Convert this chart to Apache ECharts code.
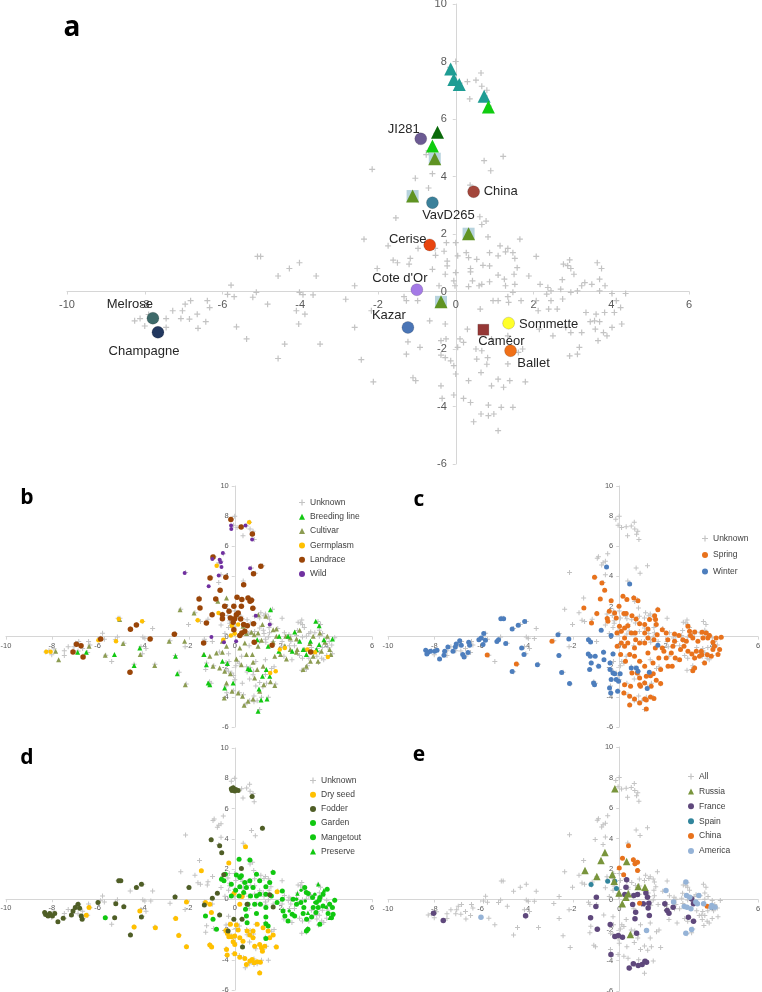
<!DOCTYPE html>
<html><head><meta charset="utf-8">
<script src="https://cdn.jsdelivr.net/npm/echarts@6/dist/echarts.min.js"></script>
<style>html,body{margin:0;padding:0;background:#fff}#c{width:762px;height:992px}</style>
</head><body><div id="c"></div>
<script>
// ---------- DATA ----------
const xRange = [-10, 6];
const yRange = [-6, 10];
const tickStep = 2;

// all accessions (grey crosses)
const allPts = [
[0,8.0],[0.3,7.3],[0.52,7.35],[0.65,7.6],[0.67,7.14],[0.36,6.7],[0.8,7.0],[-0.15,7.8],[0.1,7.25],[-0.05,7.4],[0.75,6.8],[0.85,6.45],
[1.22,4.7],[0.73,4.55],[0.9,4.2],[-0.76,4.76],[-0.6,4.1],[-1.04,3.94],[-0.7,3.6],[-2.15,4.25],[0.37,3.7],[-1.54,2.56],[0.62,2.6],[0.78,2.45],[0.67,2.33],[-0.95,5.2],[-0.6,5.0],[-0.7,4.9],[-0.5,5.5],[-0.9,5.3],
[-2.36,1.82],[-1.74,1.59],[0,1.7],[-0.24,1.7],[-0.53,1.5],[0.83,1.9],[1.65,1.82],[-0.97,1.5],[-0.3,1.4],
[-5.02,1.22],[-5.1,1.22],[-4.02,1.0],[-4.28,0.8],[-4.57,0.54],[-3.59,0.54],[-5.78,0.22],[-5.87,-0.1],[-5.7,-0.18],[-5.13,-0.03],[-5.22,-0.2],[-4.84,-0.44],[-4.02,-0.03],[-3.93,-0.11],[-3.67,-0.12],[-4.1,-0.67],[-3.88,-0.79],[-4.04,-1.13],[-5.64,-1.23],[-5.38,-1.65],[-4.4,-1.83],[-3.49,-1.83],[-4.57,-2.33],
[-7.28,-0.67],[-7.03,-0.67],[-6.82,-0.32],[-6.96,-0.44],[-6.39,-0.32],[-6.33,-0.56],[-6.65,-0.79],[-6.43,-1.05],[-6.63,-1.28],[-7.45,-0.94],[-7.07,-0.94],[-6.85,-0.96],[-7.45,-1.25],[-8.26,-1.02],[-8.12,-0.94],[-7.9,-0.8],[-8.0,-1.2],
[-2.83,-0.27],[-2.6,0.2],[-2.02,0.8],[-2.17,-0.67],[-2.6,-1.25],[-2.43,-2.37],[-2.12,-3.14],[-1.17,1.15],[-1.61,1.09],[-1.5,1.0],[-1.2,0.95],[-1.27,-0.32],[-0.98,-0.32],[-1.33,-0.18],[-1.23,-1.75],[-1.27,-2.18],[-0.92,-1.94],[-1.1,-3.0],[-1.03,-3.1],[-0.67,-1.02],[-0.27,-1.13],[-0.38,-1.71],[-0.25,-1.65],[-0.38,-2.21],[-0.27,-2.3],[-0.13,-2.41],[0,-2.87],[-0.05,-2.58],[-0.38,-3.28],[-0.35,-3.72],[-0.05,-3.6],
[0.2,-3.72],[0.38,-3.86],[0.65,-4.26],[0.84,-4.32],[0.46,-4.53],[0.84,-3.95],[0.98,-4.26],[1.09,-4.84],[1.17,-4.03],[1.47,-4.03],[1.09,-3.05],[1.23,-3.33],[1.39,-3.1],[0.92,-3.28],[0.65,-2.82],[1.79,-3.14],[0.33,-3.1],[0.54,-2.35],[0.82,-2.3],[0.8,-2.53],[0.52,-2.0],[0.67,-2.06],[1.34,-2.52],[1.61,-2.12],[1.72,-2.0],[0.05,-1.94],[0.11,-1.65],[0.2,-1.77],[0.3,-1.31],[0.92,-1.65],[1.34,-1.54],
[0.63,-0.61],[0.96,-0.32],[1.36,-0.38],[1.34,-0.18],[1.47,-0.03],[1.09,-0.32],[1.68,-0.32],[2.07,-0.32],[2.12,-0.67],[2.39,-0.61],[2.61,-0.61],[2.15,-1.31],[2.5,-1.54],[2.83,-1.25],[2.96,-1.43],[3.24,-1.43],[3.18,-1.94],[2.93,-2.24],[3.13,-2.18],[3.66,-1.71],[3.8,-1.43],[3.59,-1.31],[4.02,-1.25],[4.27,-1.13],[3.89,-1.54],[3.46,-1.05],[3.57,-1.02],[3.7,-1.05],[3.35,-0.73],[3.61,-0.79],[3.83,-0.73],[4.13,-0.32],[4.24,-0.56],[4.08,-0.73],[4.37,-0.07],[4.02,-0.07],[3.7,0.02],[3.84,0.2],[3.5,0.25],[3.7,0.43],[3.32,0.31],[3.75,0.8],[3.64,1.0],[3.24,0.2],[2.96,-0.03],[3.13,0.02],[2.74,0.41],[2.96,0.8],[3.04,0.6],[2.77,0.95],[2.93,1.1],[2.88,0.9],[2.7,0.08],[2.45,0.02],[2.37,0.14],[2.34,-0.09],[2.45,-0.32],[2.75,-0.26],[2.17,0.25],[2.07,1.22],[1.88,0.54],[1.52,0.25],[1.28,0.2],[1.25,0.43],[1.09,0.57],[1.5,0.6],[1.58,0.83],[1.52,1.15],[1.47,1.35],[1.34,1.5],[1.14,1.59],[1.09,1.24],[1.28,1.38],[0.87,1.35],[0.87,0.89],[0.7,0.91],[0.54,1.12],[0.33,1.18],[0.38,0.8],[0.38,0.68],[0.27,1.35],[0.43,0.37],[0.6,0.2],[0.67,0.25],[0.87,0.34],[0.33,0.17],[-0.02,0.2],[-0.05,0.37],[0,0.66],[-0.22,0.89],[-0.22,1.06],[0.05,1.24],[-0.27,0.6],[-0.43,0.2],[-0.52,1.26],[-0.6,0.77]
];

// panel a highlighted accessions
const aTeal = [[-0.13,7.74],[-0.05,7.37],[0.09,7.2],[0.73,6.79]];
const aBright = [[0.84,6.42],[-0.6,5.06]];
const aDark = [[-0.47,5.54]];
const aOlive = [[-0.54,4.62],[-1.11,3.32],[0.33,2.01],[-0.38,-0.36]];
const aNames = ['JI281','China','VavD265','Cerise',"Cote d'Or",'Kazar','Melrose','Champagne','Caméor','Sommette','Ballet'];
const aX = [-0.9,0.46,-0.6,-0.67,-1.0,-1.23,-7.79,-7.66,0.71,1.36,1.41];
const aY = [5.31,3.47,3.09,1.62,0.06,-1.25,-0.93,-1.42,-1.33,-1.1,-2.06];

// panel b: type
const bWild = [[-0.16,7.37],[-0.15,7.15],[0.47,7.37],[0.76,6.44],[-0.52,5.55],[-0.98,5.15],[-0.66,5.11],[-0.61,4.93],[-0.58,4.62],[-2.19,4.23],[-0.7,4.05],[0.67,4.54],[-1.14,3.34],[0.92,1.39],[1.53,0.8],[-1.02,-0.02],[-0.47,-0.38],[0.06,-0.31]];
const bLandrace = [[-0.17,7.77],[0.28,7.28],[0.77,6.81],[1.14,4.67],[0.82,4.18],[-0.95,5.29],[-1.08,3.89],[-0.39,3.94],[0.39,3.45],[-0.64,3.08],[-1.56,2.5],[-0.83,2.5],[0.1,2.61],[0.31,2.46],[0.58,2.57],[0.67,2.35],[0.73,2.42],[-1.52,1.9],[-0.44,2.01],[-0.04,2.01],[0.29,2.01],[0.79,1.88],[-0.99,1.46],[-0.54,1.46],[-0.25,1.68],[0.07,1.46],[0.15,1.57],[-0.19,1.24],[0,1.19],[0.26,1.17],[-0.54,1.19],[-1.24,0.91],[-0.07,0.95],[0.39,0.8],[0.55,0.73],[0.82,0.86],[-0.04,0.46],[0.31,0.24],[0.44,0.35],[0.22,0.07],[-2.64,0.15],[-3.7,-0.15],[-4.56,0.49],[-4.3,0.77],[-5.86,-0.15],[-6.92,-0.51],[-6.72,-0.6],[-7.07,-1.02],[-6.63,-1.35],[-4.58,-2.37],[-1.36,-0.42],[0.85,-0.38],[1.63,-0.58],[3.32,-1.02]];
const bGermplasm = [[0.63,7.59],[-0.79,4.71],[-0.71,1.57],[-1.62,1.08],[-0.13,0.73],[0.15,0.8],[-5.07,1.17],[-4.05,1.02],[-5.19,-0.31],[-5.96,-0.24],[-8.05,-1.0],[-8.24,-1.0],[-0.17,0.07],[0,0.2],[-0.5,-0.2],[1.97,-0.86],[2.19,-0.75],[1.55,-2.41],[1.79,-2.3],[3.18,-0.86],[3.51,-1.04],[4.07,-1.35]];
const bBreeding = [[1.56,1.79],[3.54,1.02],[3.69,0.73],[4.27,-0.15],[3.9,-0.2],[-5.26,-1.19],[-6.49,-1.04],[-6.87,-1.04],[-4.15,-0.75],[-4.4,-1.92],[-2.59,-1.31],[-2.51,-2.46],[-1.34,-1.19],[-1.24,-1.86],[-1.09,-3.19],[-1.16,-3.08],[-0.44,-3.41],[-0.54,-1.64],[-0.32,-1.79],[-0.07,-3.08],[0.58,-2.12],[0.67,-2.19],[1.02,-4.96],[1.41,-4.14],[1.15,-4.2],[1.06,-3.47],[1.21,-2.63],[0.98,-0.2],[1.46,-0.64],[1.94,0.02],[2.33,0.02],[2.62,0.31],[2.84,-0.31],[2.99,-0.86],[3.31,-0.31],[3.13,-1.19],[3.57,-0.86],[3.69,-0.53],[2.51,-0.97],[1.93,-0.97],[1.38,-2.19],[1.53,-2.63]];
const bCultivar = [[-0.74,2.35],[-2.39,1.79],[-1.78,1.57],[-0.36,2.57],[-5.03,1.13],[1.03,1.46],[1.36,1.35],[1.21,0.8],[1.68,0.46],[1.82,0.5],[0.73,0.29],[1.02,0.24],[0.36,0.69],[0.51,0.2],[0.85,0.13],[1.17,-0.24],[1.68,-0.35],[1.82,0.02],[2.23,0.02],[2.43,-0.09],[2.7,-0.15],[2.19,-0.6],[2.0,-1.19],[2.26,-1.48],[2.7,-1.04],[3.06,-0.86],[3.28,-0.46],[3.43,0.02],[3.72,0.24],[3.94,-0.38],[4.05,0.02],[3.79,-0.97],[4.15,-0.86],[4.2,-1.19],[3.43,-1.31],[3.64,-1.64],[3.13,-1.97],[2.99,-2.19],[3.31,-1.64],[2.73,-0.86],[2.43,-0.86],[2.84,0.42],[1.02,-0.64],[0.44,-0.42],[0.22,-0.75],[0.51,-1.19],[0.07,-1.48],[0.29,-1.86],[0.8,-1.7],[0.98,-2.19],[1.24,-1.97],[0.87,-2.74],[1.27,-3.19],[1.09,-3.63],[0.8,-4.14],[0.58,-4.29],[0.41,-4.56],[0.34,-3.96],[0.15,-3.74],[-0.12,-3.63],[-0.46,-4.07],[-0.36,-3.08],[-0.19,-2.46],[-0.44,-2.3],[-0.66,-2.08],[-0.95,-1.97],[-1.36,-1.19],[-1.09,-1.31],[-0.8,-1.08],[-0.54,-1.04],[-0.36,-0.64],[-0.54,-0.31],[0.77,-1.19],[1.75,-1.31],[1.75,-3.25],[1.56,-3.0],[-2.16,-3.19],[-2.19,-0.31],[-2.87,-0.31],[-3.5,-1.92],[-4.13,-1.19],[-4.88,-0.46],[-5.66,-1.24],[-6.37,-0.64],[-7.7,-1.53],[-7.83,-0.97],[0.07,1.46]];

// panel c: growth habit
const cWinter = [[-8.37,-0.91],[-8.27,-1.04],[-8.16,-0.97],[-7.98,-0.97],[-8.32,-1.15],[-7.88,-0.91],[-7.77,-1.48],[-7.58,-1.24],[-7.55,-0.97],[-7.41,-0.69],[-7.19,-0.97],[-7.09,-0.69],[-7.05,-0.49],[-6.9,-0.27],[-6.83,-0.58],[-6.77,-1.19],[-6.71,-1.35],[-6.51,-0.38],[-6.47,-0.58],[-6.54,-1.06],[-6.07,-0.2],[-5.97,-0.09],[-5.86,0.2],[-5.79,-0.24],[-5.89,-0.53],[-5.29,-0.33],[-5.22,-0.2],[-5.12,1.19],[-5.0,1.19],[-4.91,-0.46],[-4.63,0.51],[-4.37,0.75],[-4.09,1.0],[-4.22,-0.75],[-4.12,-1.19],[-4.63,-2.32],[-3.54,-1.86],[-2.65,0.13],[-2.61,-1.26],[-2.49,-2.39],[-2.18,-0.15],[-2.15,-3.12],[-1.33,-0.2],[-1.24,-0.35],[-1.34,-1.15],[-1.25,-1.31],[-1.28,-2.19],[-1.21,-1.75],[-1.04,-1.31],[-1.11,-3.08],[-1.07,-3.19],[-0.89,-1.97],[-0.78,0.42],[-0.68,-1.04],[-0.66,-1.53],[-0.55,4.62],[-0.4,-1.75],[-0.35,0.07],[-0.27,-1.15],[-0.4,-2.19],[-0.35,-2.85],[-0.42,-3.41],[-0.37,-3.74],[-0.27,-2.41],[-0.2,-2.46],[-0.13,-2.85],[-0.03,-2.96],[-0.07,-3.63],[0.04,-2.46],[0.45,3.5],[0.52,-2.08],[0.74,-2.08],[0.81,-2.3],[1.3,-2.37],[1.67,-0.58],[1.21,-3.45]];
const cSpring = [[-1.07,3.94],[-0.75,3.56],[-0.63,3.08],[-1.53,1.9],[-1.2,0.91],[-0.97,1.53],[-0.82,2.5],[-0.35,2.39],[-0.52,1.2],[-0.49,1.02],[-0.43,1.68],[-0.2,1.57],[-0.13,1.24],[-0.01,2.01],[0.16,2.68],[0.33,2.46],[0.63,2.57],[0.81,2.39],[0.2,1.53],[0.3,1.53],[0.55,1.39],[0.73,1.17],[0.88,0.86],[1.1,0.8],[1.31,1.13],[1.57,1.13],[1.67,1.79],[1.53,1.39],[1.6,0.8],[1.24,0.51],[1.1,0.24],[0.69,0.24],[0.37,0.73],[0.23,0.57],[0.01,0.69],[-0.1,0.24],[0.09,0.35],[0.23,-0.09],[0.52,0.24],[0.37,-0.42],[0.71,-0.2],[0.88,-0.42],[1.24,-0.09],[1.5,-0.2],[1.64,0.13],[1.86,0.46],[2.03,0.24],[2.1,-0.2],[1.86,-0.75],[1.56,-0.75],[1.24,-1.08],[1.1,-0.42],[0.66,-0.75],[0.23,-0.64],[0.09,-0.42],[-0.09,-0.64],[0.06,-1.19],[0.27,-1.64],[0.45,-1.19],[0.66,-1.31],[0.88,-1.64],[1.1,-1.97],[1.46,-1.75],[1.71,-1.42],[1.93,-0.97],[2.03,-1.42],[2.25,-1.08],[2.42,-1.42],[2.11,-1.97],[2.29,-1.97],[1.79,-2.19],[1.47,-2.46],[1.6,-2.9],[1.79,-3.12],[1.35,-2.59],[1.17,-2.63],[0.88,-2.74],[0.88,-3.19],[0.78,-2.41],[0.55,-2.41],[0.49,-3.3],[0.23,-3.19],[1.1,-3.08],[1.38,-3.3],[0.92,-3.3],[0.2,-3.74],[0.45,-3.96],[0.66,-4.14],[0.88,-4.4],[1.1,-4.14],[1.17,-4.2],[1.35,-4.0],[1.5,-4.1],[1.17,-4.8],[0.45,-4.54],[2.39,0.18],[2.58,0.07],[2.75,-0.2],[2.9,-0.31],[2.8,-0.64],[2.65,-0.86],[2.97,-0.97],[3.14,-1.15],[3.26,-1.42],[3.33,-0.97],[3.47,-1.31],[3.57,-1.2],[3.69,-1.75],[3.81,-1.2],[3.98,-1.31],[4.27,-1.19],[4.34,-0.86],[4.12,-0.64],[4.05,-0.38],[4.41,-0.04],[4.19,-0.09],[3.9,0.07],[3.76,0.24],[3.62,-0.09],[3.4,-0.31],[3.18,-0.09],[3.26,0.31],[3.08,0.07],[2.97,0.69],[3.04,0.35],[3.58,0.29],[3.83,-0.09],[4.05,-0.86],[3.26,-2.08],[3.18,-2.26],[3.55,-0.97],[2.39,-0.31],[2.32,-0.64],[2.61,-1.53],[-2.91,-0.31],[-5.71,-1.22],[-4.45,-1.81]];

// panel d: usage
const dFodder = [[-0.15,7.3],[-0.07,7.37],[0.04,7.26],[0.15,7.19],[0,7.15],[-0.12,7.19],[0.76,6.79],[1.21,4.69],[-1.03,3.94],[-0.66,3.54],[-0.57,3.08],[-0.48,1.62],[0.29,2.04],[-2.0,0.77],[-0.76,0.4],[-0.98,0.07],[-1.33,-0.38],[-0.66,-1.04],[-0.04,-1.33],[-0.29,-2.1],[0.54,-0.33],[0.32,-1.33],[0.34,-3.16],[1.53,0.29],[1.68,-0.51],[-2.61,0.15],[-4.08,1.0],[-4.3,0.77],[-4.08,-1.17],[-4.56,-2.37],[-5.07,1.22],[-4.98,1.22],[-5.2,-0.29],[-4.85,-0.49],[-5.25,-1.22],[-5.98,-0.22],[-6.85,-0.33],[-6.78,-0.6],[-7.07,-0.77],[-6.97,-0.55],[-7.14,-1.04],[-6.71,-1.11],[-6.67,-1.33],[-7.5,-1.26],[-7.73,-1.48],[-7.87,-0.95],[-8.09,-0.95],[-8.27,-1.0],[-8.16,-1.11],[-8.31,-0.88],[-7.97,-1.11]];
const dDrySeed = [[0.47,3.47],[-0.26,2.39],[-1.46,1.88],[1.85,0.49],[-0.03,0.4],[0.22,-0.33],[0.32,0.18],[-2.11,-0.18],[-1.28,-0.22],[-1.09,-0.33],[-1.02,-0.88],[-2.58,-1.28],[-2.45,-2.39],[-2.11,-3.14],[-4.15,-0.77],[-4.4,-1.84],[-3.47,-1.88],[-6.37,-0.55],[-6.49,-1.06],[-1.09,-3.03],[-1.01,-3.16],[-0.39,-2.06],[-0.32,-2.26],[-0.26,-2.48],[-0.19,-1.66],[0.07,-1.7],[0.15,-2.04],[0,-2.43],[-0.15,-2.48],[-0.07,-2.81],[0,-2.99],[0.22,-2.54],[0.36,-2.77],[0.54,-2.1],[0.66,-2.37],[0.8,-2.54],[0.87,-3.1],[1.09,-2.99],[1.21,-3.43],[1.17,-3.21],[1.53,-2.54],[1.68,-2.37],[1.82,-3.16],[1.46,-2.1],[1.24,-1.88],[0.98,-1.66],[0.8,-2.1],[-0.36,-3.32],[-0.33,-3.69],[0,-3.61],[0.22,-3.83],[0.44,-3.92],[0.51,-4.31],[0.66,-4.09],[0.76,-3.98],[0.85,-4.2],[0.98,-4.14],[1.09,-4.87],[1.12,-4.16],[1.31,-3.1]];
const dGarden = [[0.19,2.65],[0.66,2.59],[-0.41,1.66],[-0.47,1.22],[-0.15,1.0],[0.22,1.44],[0.29,1.55],[0.07,1.6],[0.44,1.11],[0.66,1.22],[0.95,1.66],[1.09,1.22],[1.68,1.77],[1.53,1.11],[1.36,0.82],[0.8,0.77],[0.51,0.77],[0.22,0.82],[0.39,0.44],[0.19,0.22],[0.69,0.22],[0.95,0.22],[1.09,0.33],[1.36,0.33],[1.12,-0.33],[0.87,-0.33],[0.58,-0.33],[0.47,-0.66],[0.95,-0.95],[0.51,-1.11],[0.54,-1.55],[1.36,-0.55],[1.36,-1.17],[1.36,-1.62],[1.46,-1.77],[1.36,-2.59],[1.6,0.22],[2.08,0.55],[1.85,-0.22],[2.11,-0.77],[2.19,-1.11],[2.33,-1.44],[2.51,-0.99],[2.55,0],[2.08,0],[2.89,-0.22],[2.99,-0.95],[3.06,0.77],[3.21,0.38],[3.4,0.11],[3.57,-0.22],[3.72,0.11],[3.86,0.33],[4.04,0.66],[4.15,-0.33],[4.37,-0.07],[4.27,-0.55],[4.08,-0.95],[4.23,-1.22],[4.3,-0.99],[3.86,-0.44],[3.69,-0.07],[3.65,-0.55],[3.43,-0.55],[3.55,-0.88],[3.36,-1.17],[3.14,-1.33],[3.72,-1.66],[3.13,-2.1],[3.2,-1.99],[3.13,0.44],[2.7,-0.33],[2.62,-1.11],[3.02,-0.55],[-0.8,-1.99],[-1.28,-1.11],[-0.95,-1.33],[-5.66,-1.22],[-0.58,1.33],[-0.15,0.22],[0.04,0.6]];
const dMangetout = [[3.5,-0.22],[2.7,0.0],[2.38,-0.77],[4.0,-0.55],[3.5,0.33],[3.08,-0.11],[2.9,0.6]];
const dPreserve = [[3.65,1.0],[2.74,0.38],[4.15,-1.22],[3.2,-0.9],[3.9,0.6]];

// panel e: origin
const eRussia = [[-0.19,7.26],[-1.48,1.9],[-0.97,1.51],[-0.79,2.56],[-0.62,3.09],[-0.3,1.64],[-0.22,1.2],[-0.01,0.42],[0.32,2.49],[0.82,0.85],[1.11,0.81],[0.39,0.37],[0.29,0.15],[0.13,-0.28],[0.48,-2.3]];
const eFrance = [[-8.03,-0.9],[-7.61,-1.38],[-4.05,-1.07],[-0.99,0.15],[-1.01,-0.46],[-1.24,-1.2],[-0.95,-1.95],[-0.39,-1.64],[-0.36,-3.61],[-0.19,-2.43],[-0.04,-2.36],[0.14,-2.47],[0.32,1.29],[0.29,0.81],[0.24,0.33],[0.63,0.26],[0.79,0.33],[0.58,-0.33],[0.71,-0.83],[0.68,-1.27],[0.75,-2.21],[1.04,-0.28],[1.15,0.42],[1.22,0.15],[1.28,-0.24],[1.25,-0.55],[1.3,-1.05],[0.43,-4.49],[0.61,-4.22],[0.82,-4.33],[0.99,-4.27],[1.11,-4.05],[1.18,-4.12],[1.97,-0.28],[2.07,-0.72],[2.15,-0.9],[2.33,-0.5],[3.13,0.04],[3.21,-0.28],[2.99,-1.16],[3.21,-1.42]];
const eSpain = [[-1.22,0.98],[-0.5,1.2],[-0.19,1.2],[-0.12,0.72]];
const eChina = [[0.4,3.52],[0.14,2.71],[0.19,1.62],[0,2.06],[0.61,2.6],[0.68,2.34],[0.79,2.45],[0.79,1.9],[0.88,-0.24],[3.8,-0.44]];
const eAmerica = [[-5.98,-1.16],[2.02,0.59],[2.35,-0.17],[1.18,-2.03],[2.88,1.14],[2.91,0.26],[3.05,0.15],[2.81,-0.46],[2.93,-0.5],[3.1,-0.61],[3.31,-0.17],[3.38,-0.28],[3.44,0.26],[2.88,-2.21],[3.13,-1.97],[4.14,-0.5],[4.0,-0.39],[3.97,-0.5],[3.65,-0.28]];

// ---------- STYLE ----------
const CROSS = 'path://M4,0h2v4h4v2h-4v4h-2v-4h-4v-2h4z';
const GREY = '#c3c3c3';
const FONT = '"Liberation Sans", Arial, sans-serif';
const aStyle = {
  'JI281':     {c:'#6b5a92', off:[-17,-9]},
  'China':     {c:'#a3463b', off:[27,0]},
  'VavD265':   {c:'#3b809a', off:[16,13]},
  'Cerise':    {c:'#e8440e', off:[-22,-6]},
  "Cote d'Or": {c:'#a47ae6', off:[-17,-11]},
  'Kazar':     {c:'#4a75b6', off:[-19,-12]},
  'Melrose':   {c:'#3e6a6a', off:[-23,-14]},
  'Champagne': {c:'#22385f', off:[-14,19]},
  'Caméor':    {c:'#953735', off:[18,12], sym:'rect'},
  'Sommette':  {c:'#ffff2a', off:[40,1]},
  'Ballet':    {c:'#f07018', off:[23,13]}
};

const gridBoxes = [
  {left:67, top:4, width:622, height:460},
  {left:6, top:486, width:366, height:241},
  {left:388, top:486, width:370, height:241},
  {left:6, top:748, width:366, height:242},
  {left:388, top:747, width:370, height:244}
];
const grids = gridBoxes.map(g => Object.assign({containLabel:false, outerBoundsMode:'none'}, g));

// axes crossing at the origin: shift each axis from the grid edge to the zero of the other axis
function xAx(i, fs, m){
  const g = gridBoxes[i];
  const shift = g.height * (0 - yRange[0]) / (yRange[1] - yRange[0]);
  return {gridIndex:i, type:'value', min:xRange[0], max:xRange[1], interval:tickStep,
  position:'bottom', offset:-shift,
  axisLine:{onZero:false, lineStyle:{color:'#d6d6d6', width:1}},
  axisTick:{show:true, length:3, lineStyle:{color:'#d6d6d6'}},
  splitLine:{show:false},
  axisLabel:{fontSize:fs, color:'#595959', margin:m, fontFamily:FONT}}; }
function yAx(i, fs, m){
  const g = gridBoxes[i];
  const shift = g.width * (0 - xRange[0]) / (xRange[1] - xRange[0]);
  return {gridIndex:i, type:'value', min:yRange[0], max:yRange[1], interval:tickStep,
  position:'left', offset:-shift,
  axisLine:{onZero:false, lineStyle:{color:'#d6d6d6', width:1}},
  axisTick:{show:true, length:3, lineStyle:{color:'#d6d6d6'}},
  splitLine:{show:false},
  axisLabel:{fontSize:fs, color:'#595959', margin:m, fontFamily:FONT}}; }

function sc(gi, name, data, symbol, size, color, z, extra){
  return Object.assign({type:'scatter', name, xAxisIndex:gi, yAxisIndex:gi, data, symbol, symbolSize:size,
    itemStyle:{color, opacity:1}, z:z||2, silent:true, animation:false}, extra||{});
}

const aNamedData = aNames.map((n,i)=>{
  const s = aStyle[n];
  return {value:[aX[i], aY[i]], symbol:s.sym||'circle', symbolSize:s.sym?11:12,
    itemStyle:{color:s.c, borderColor:'rgba(0,0,0,0.15)', borderWidth:1},
    label:{show:true, formatter:n, position:'inside', offset:s.off, align:'center', verticalAlign:'middle',
      fontSize:13, color:'#262626', fontFamily:FONT}};
});

const series = [
  // panel a
  sc(0,'all_a', allPts, CROSS, 6, GREY, 1),
  sc(0,'aOliveBg', aOlive, 'rect', 12, '#b7d3dd', 2),
  sc(0,'aOlive', aOlive, 'triangle', 13, '#5f9322', 3),
  sc(0,'aTeal', aTeal, 'triangle', 13, '#1e9c93', 3),
  sc(0,'aBright', aBright, 'triangle', 13, '#10cc10', 3),
  sc(0,'aDark', aDark, 'triangle', 13, '#0a6a0a', 3),
  sc(0,'aNamed', aNamedData, 'circle', 12, '#888', 4),
  // panel b
  sc(1,'Unknown', allPts, CROSS, 5, GREY, 1),
  sc(1,'Cultivar', bCultivar, 'triangle', 5, '#8c9c52', 2),
  sc(1,'Breeding line', bBreeding, 'triangle', 5, '#12c812', 3),
  sc(1,'Germplasm', bGermplasm, 'circle', 4.5, '#ffc000', 3),
  sc(1,'Landrace', bLandrace, 'circle', 5.5, '#9a4508', 4),
  sc(1,'Wild', bWild, 'circle', 4, '#7030a0', 5),
  // panel c
  sc(2,'Unknown', allPts, CROSS, 5, GREY, 1),
  sc(2,'Spring', cSpring, 'circle', 5, '#e8721c', 2),
  sc(2,'Winter', cWinter, 'circle', 5, '#4d7ebd', 3),
  // panel d
  sc(3,'Unknown', allPts, CROSS, 5, GREY, 1),
  sc(3,'Dry seed', dDrySeed, 'circle', 5, '#ffc000', 2),
  sc(3,'Fodder', dFodder, 'circle', 5, '#4f5e26', 3),
  sc(3,'Garden', dGarden, 'circle', 5, '#10c810', 2),
  sc(3,'Mangetout', dMangetout, 'circle', 3.5, '#10c810', 3),
  sc(3,'Preserve', dPreserve, 'triangle', 4.5, '#10c810', 3),
  // panel e
  sc(4,'All', allPts, CROSS, 5, GREY, 1),
  sc(4,'Russia', eRussia, 'triangle', 7.5, '#79953c', 3),
  sc(4,'France', eFrance, 'circle', 5.5, '#5f487c', 2),
  sc(4,'Spain', eSpain, 'circle', 5, '#31859c', 2),
  sc(4,'China', eChina, 'circle', 5, '#e8721c', 2),
  sc(4,'America', eAmerica, 'circle', 5.5, '#95b3d7', 2)
];

function lg(data, left, top, gap){
  return {data, left, top, orient:'vertical', itemWidth:6, itemHeight:6, itemGap:gap, selectedMode:false,
    textStyle:{fontSize:8.5, color:'#404040', fontFamily:FONT, lineHeight:11}, padding:0};
}

const option = {
  animation:false,
  backgroundColor:'#fff',
  grid: grids,
  xAxis: [xAx(0,11,8), xAx(1,7.5,5), xAx(2,7.5,5), xAx(3,7.5,5), xAx(4,7.5,5)],
  yAxis: [yAx(0,11,9), yAx(1,7.5,6), yAx(2,7.5,6), yAx(3,7.5,6), yAx(4,7.5,6)],
  legend: [
    lg(['Unknown','Breeding line','Cultivar','Germplasm','Landrace','Wild'], 299, 497, 3.3),
    lg(['Unknown','Spring','Winter'], 702, 533, 5.5),
    lg(['Unknown','Dry seed','Fodder','Garden','Mangetout','Preserve'], 310, 775, 3.2),
    lg(['All','Russia','France','Spain','China','America'], 688, 771, 3.9)
  ],
  graphic: [
    {type:'text', x:72, y:28, style:{text:'a', font:'bold 28px "Open Sans"', fill:'#000', align:'center', verticalAlign:'middle'}},
    {type:'text', x:27, y:498, style:{text:'b', font:'bold 21px "Open Sans"', fill:'#000', align:'center', verticalAlign:'middle'}},
    {type:'text', x:419, y:500, style:{text:'c', font:'bold 21px "Open Sans"', fill:'#000', align:'center', verticalAlign:'middle'}},
    {type:'text', x:27, y:758, style:{text:'d', font:'bold 21px "Open Sans"', fill:'#000', align:'center', verticalAlign:'middle'}},
    {type:'text', x:419, y:755, style:{text:'e', font:'bold 21px "Open Sans"', fill:'#000', align:'center', verticalAlign:'middle'}}
  ],
  series
};
const chart = echarts.init(document.getElementById('c'), null, {renderer:'canvas'});
chart.setOption(option);
</script>
</body></html>
